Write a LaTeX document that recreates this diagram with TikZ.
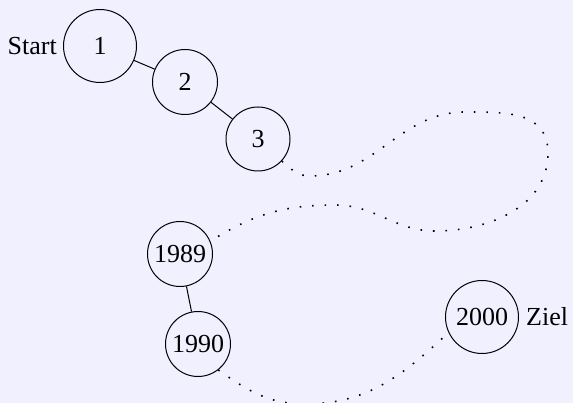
\documentclass[tikz,border=0pt]{standalone}
\usepackage{fontspec}
\setmainfont{Liberation Serif}
\definecolor{bg}{RGB}{240,240,255}
\begin{document}
\begin{tikzpicture}[x=1pt,y=-1pt,
  font=\fontsize{26}{30}\selectfont,
  yr/.style={circle,draw,line width=1pt,inner sep=0pt,minimum size=#1},
  lbl/.style={inner sep=0pt},
  link/.style={line width=1pt},
  trail/.style={line width=1.6pt,dash pattern=on 1.6pt off 10.9pt}]
\fill[bg] (0,0) rectangle (573,403);
\useasboundingbox (0,0) rectangle (573,403);
\clip (0,0) rectangle (573,403);
\node[yr=73pt] (n1) at (100,46) {1};
\node[yr=65pt] (n2) at (185,82) {2};
\node[yr=64pt] (n3) at (258,139) {3};
\node[yr=65pt] (n1989) at (180,254) {1989};
\node[yr=65pt] (n1990) at (198,344) {1990};
\node[yr=73pt] (n2000) at (482,317) {2000};
\node[lbl,anchor=base east] (start) at ([xshift=-6pt]n1.base west) {Start};
\node[lbl,anchor=base west] (ziel) at ([xshift=7pt]n2000.base east) {Ziel};
\draw[link] (n1) -- (n2);
\draw[link] (n2) -- (n3);
\draw[link] (n1989) -- (n1990);
\coordinate (a) at (310,176);
\coordinate (top) at (465,112);
\coordinate (r) at (548,153);
\coordinate (bot) at (435,231);
\coordinate (m) at (335,205);
\coordinate (b) at (305,404);
\draw[trail] (n3.-43) to[out=-40,in=180] (a) to[out=0,in=180] (top)
  to[out=0,in=90,looseness=1.15] (r) to[out=-90,in=0] (bot) to[out=180,in=0] (m)
  to[out=180,in=32] (n1989.23);
\draw[trail] (n1990.-52) to[out=-35,in=180] (b) to[out=0,in=223] (n2000.205);
\end{tikzpicture}
\end{document}
